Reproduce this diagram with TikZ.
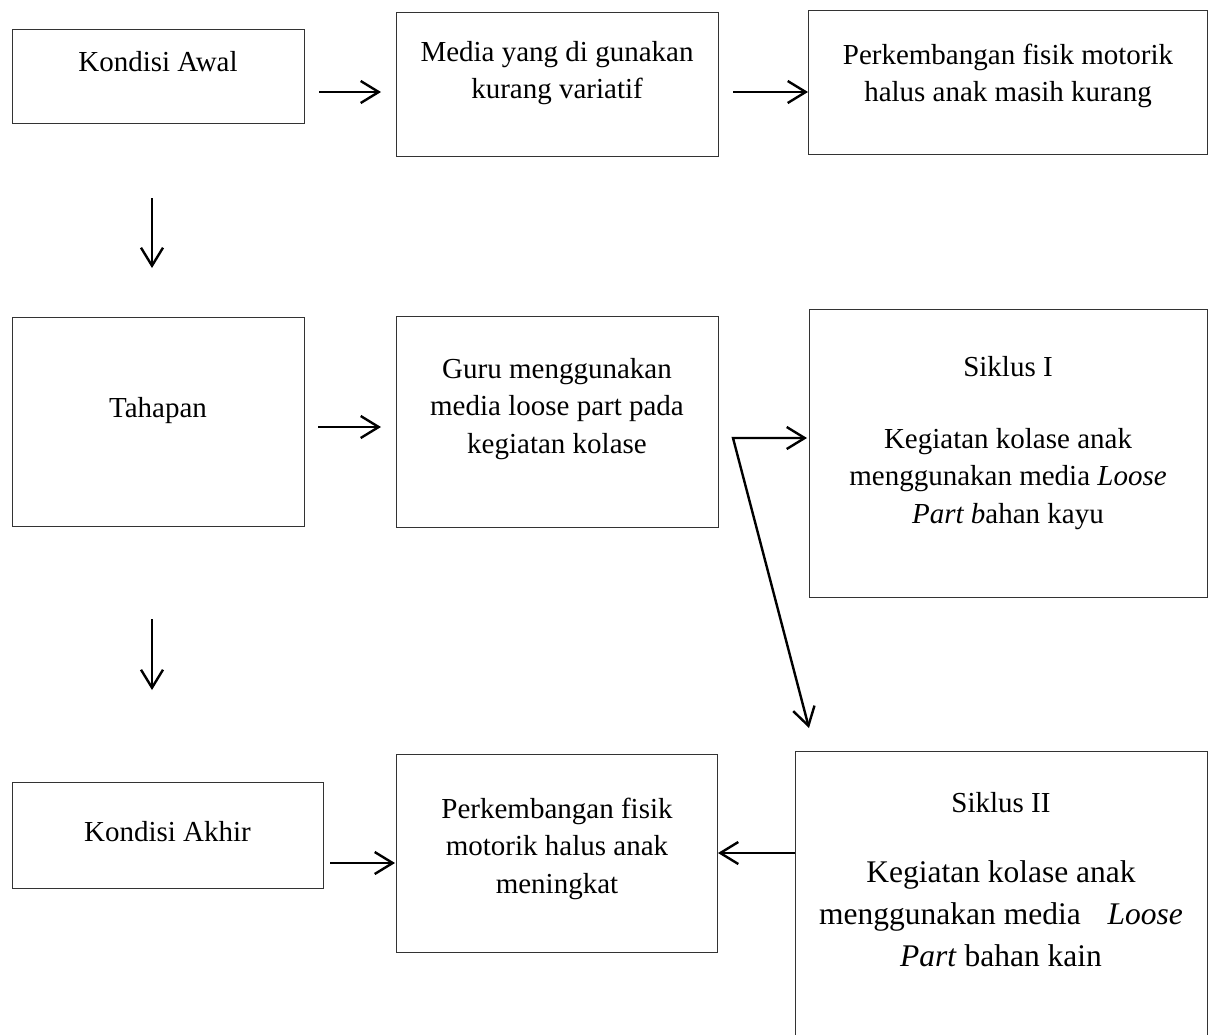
\documentclass[tikz,border=0pt]{standalone}
\usepackage{fontspec}
\setmainfont{Liberation Serif}
\usetikzlibrary{arrows.meta}
\begin{document}
\begin{tikzpicture}[x=1pt,y=-1pt,
  box/.style={draw=black!80, line width=1.3pt, inner sep=0pt, anchor=north west},
  txt/.style={font=\fontsize{29}{37.5}\selectfont, align=center, anchor=north, inner sep=0pt},
  bigtxt/.style={font=\fontsize{31.5}{42}\selectfont, align=center, anchor=north, inner sep=0pt},
  arr/.style={line width=2.4pt, -{Straight Barb[length=18pt,width=22pt]}},
  arrboth/.style={line width=2.4pt, {Straight Barb[length=18pt,width=22pt]}-{Straight Barb[length=18pt,width=22pt]}}]
\useasboundingbox (0,0) rectangle (1215,1034);
\fill[white] (0,0) rectangle (1215,1034);

% boxes
\node[box, minimum width=292pt, minimum height=94pt]  (ka)     at (12,29)   {};
\node[box, minimum width=322pt, minimum height=144pt] (media)  at (396,12)  {};
\node[box, minimum width=399pt, minimum height=144pt] (kurang) at (808,10)  {};
\node[box, minimum width=292pt, minimum height=209pt] (tah)    at (12,317)  {};
\node[box, minimum width=322pt, minimum height=211pt] (guru)   at (396,316) {};
\node[box, minimum width=398pt, minimum height=288pt] (s1)     at (809,309) {};
\node[box, minimum width=311pt, minimum height=106pt] (kak)    at (12,782)  {};
\node[box, minimum width=321pt, minimum height=198pt] (mening) at (396,754) {};
\node[box, minimum width=412pt, minimum height=320pt] (s2)     at (795,751) {};

% texts
\node[txt] (tka)     at (158,44.75)   {\strut Kondisi Awal};
\node[txt] (tmedia)  at (557,34.75)   {\strut Media yang di gunakan\\kurang variatif};
\node[txt] (tkurang) at (1008,37.75)  {\strut Perkembangan fisik motorik\\halus anak masih kurang};
\node[txt] (ttah)    at (158,390.75)  {\strut Tahapan};
\node[txt] (tguru)   at (557,351.75)  {\strut Guru menggunakan\\media loose part pada\\kegiatan kolase};
\node[txt] (ts1a)    at (1008,349.75) {\strut Siklus I};
\node[txt] (ts1b)    at (1008,421.75) {\strut Kegiatan kolase anak\\menggunakan media \textit{Loose}\\\textit{Part b}ahan kayu};
\node[txt] (tkak)    at (167.5,814.75){\strut Kondisi Akhir};
\node[txt] (tmening) at (557,791.75)  {\strut Perkembangan fisik\\motorik halus anak\\meningkat};
\node[txt] (ts2a)    at (1001,785.75) {\strut Siklus II};
\node[bigtxt] (ts2b) at (1001,852.6)  {\strut Kegiatan kolase anak\\menggunakan media\hspace{0.6em} \textit{Loose}\\\textit{Part} bahan kain};

% arrow end points
\coordinate (a1s) at (319,92);   \coordinate (a1e) at (381,92);
\coordinate (a2s) at (733,92);   \coordinate (a2e) at (808,92);
\coordinate (d1s) at (152,198);  \coordinate (d1e) at (152,268);
\coordinate (a3s) at (318,427);  \coordinate (a3e) at (381,427);
\coordinate (br)  at (733,438);  \coordinate (bre) at (807,438);
\coordinate (brd) at (809,728);
\coordinate (d2s) at (152,619);  \coordinate (d2e) at (152,690);
\coordinate (a4s) at (330,863);  \coordinate (a4e) at (395,863);
\coordinate (a5s) at (795,853);  \coordinate (a5e) at (718,853);

\draw[arr] (a1s) -- (a1e);
\draw[arr] (a2s) -- (a2e);
\draw[arr] (d1s) -- (d1e);
\draw[arr] (a3s) -- (a3e);
\draw[arrboth] (bre) -- (br) -- (brd);
\draw[arr] (d2s) -- (d2e);
\draw[arr] (a4s) -- (a4e);
\draw[arr] (a5s) -- (a5e);
\end{tikzpicture}
\end{document}
